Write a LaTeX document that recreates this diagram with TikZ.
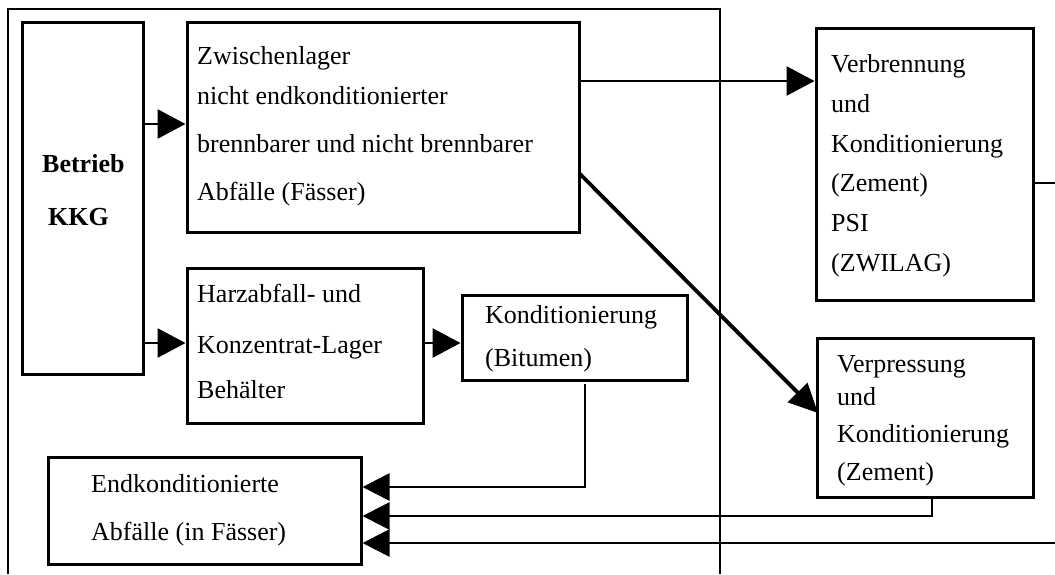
\documentclass[tikz,border=0pt]{standalone}
\usepackage{fontspec}
\setmainfont{Liberation Serif}
\usetikzlibrary{arrows.meta}

\begin{document}
\begin{tikzpicture}[x=1pt,y=-1pt,
  box/.style={draw, line width=3pt, rectangle, inner sep=0pt},
  txt/.style={inner sep=0pt, anchor=base west, font=\fontsize{26pt}{30pt}\selectfont},
  link/.style={line width=2.7pt},
  arr/.style={line width=2.8pt, -{Triangle[length=28pt,width=29pt]}},
  arrin/.style={line width=2.7pt, -{Triangle[length=27pt,width=27pt]}},
  diag/.style={line width=3.8pt, -{Triangle[length=29pt,width=27pt]}}]

\useasboundingbox (0,0) rectangle (1055,574);

% plant site frame (open at the bottom)
\draw[link] (8,574) -- (8,9) -- (720,9) -- (720,574);

% boxes
\node[box, minimum width=121pt, minimum height=352pt] (betrieb) at (82.5,198) {};
\node[box, minimum width=392pt, minimum height=210pt] (zwl) at (383,127) {};
\node[box, minimum width=236pt, minimum height=155pt] (harz) at (305,345.5) {};
\node[box, minimum width=225pt, minimum height=85pt] (bit) at (574.5,337.5) {};
\node[box, minimum width=313pt, minimum height=107pt] (endk) at (204.5,510.5) {};
\node[box, minimum width=217pt, minimum height=272pt] (verb) at (924.5,164) {};
\node[box, minimum width=216pt, minimum height=159pt] (verp) at (925,417.5) {};

% labels
\node[txt, font=\fontsize{26pt}{30pt}\selectfont\bfseries] (b1) at (42,172) {Betrieb};
\node[txt, font=\fontsize{26pt}{30pt}\selectfont\bfseries] (b2) at (48,225) {KKG};

\node[txt] (z1) at (197,64) {Zwischenlager};
\node[txt] (z2) at (197,104) {nicht endkonditionierter};
\node[txt] (z3) at (197,152) {brennbarer und nicht brennbarer};
\node[txt] (z4) at (197,200) {Abfälle (Fässer)};

\node[txt] (h1) at (197,302) {Harzabfall- und};
\node[txt] (h2) at (197,353) {Konzentrat-Lager};
\node[txt] (h3) at (197,398) {Behälter};

\node[txt] (k1) at (485,323) {Konditionierung};
\node[txt] (k2) at (485,366) {(Bitumen)};

\node[txt] (e1) at (91,492) {Endkonditionierte};
\node[txt] (e2) at (91,540) {Abfälle (in Fässer)};

\node[txt] (v1) at (831,72) {Verbrennung};
\node[txt] (v2) at (831,112) {und};
\node[txt] (v3) at (831,152) {Konditionierung};
\node[txt] (v4) at (831,191) {(Zement)};
\node[txt] (v5) at (831,231) {PSI};
\node[txt] (v6) at (831,271) {(ZWILAG)};

\node[txt] (p1) at (837,372) {Verpressung};
\node[txt] (p2) at (837,405) {und};
\node[txt] (p3) at (837,442) {Konditionierung};
\node[txt] (p4) at (837,480) {(Zement)};

% connector levels
\coordinate (r1) at (0,124);
\coordinate (r2) at (0,343);
\coordinate (r3) at (0,81);
\coordinate (s1) at (0,487);
\coordinate (s2) at (0,516);
\coordinate (s3) at (0,543);
\coordinate (zdiag) at (579,173);
\coordinate (pdiag) at (818,413);
\coordinate (bitout) at (585,384);
\coordinate (verpout) at (932,497);
\coordinate (edgeA) at (1055,183);
\coordinate (edgeB) at (1055,543);

% connectors
\draw[arr] (betrieb.east |- r1) -- (zwl.west |- r1);
\draw[arr] (betrieb.east |- r2) -- (harz.west |- r2);
\draw[arr] (harz.east |- r2) -- (bit.west |- r2);
\draw[arr] (zwl.east |- r3) -- (verb.west |- r3);
\draw[diag] (zdiag) -- (pdiag);

\draw[arrin] (bitout) |- (endk.east |- s1);
\draw[arrin] (verpout) |- (endk.east |- s2);
\draw[arrin] (edgeB) -- (endk.east |- s3);
\draw[link] (verb.east |- edgeA) -- (edgeA);

\end{tikzpicture}
\end{document}
